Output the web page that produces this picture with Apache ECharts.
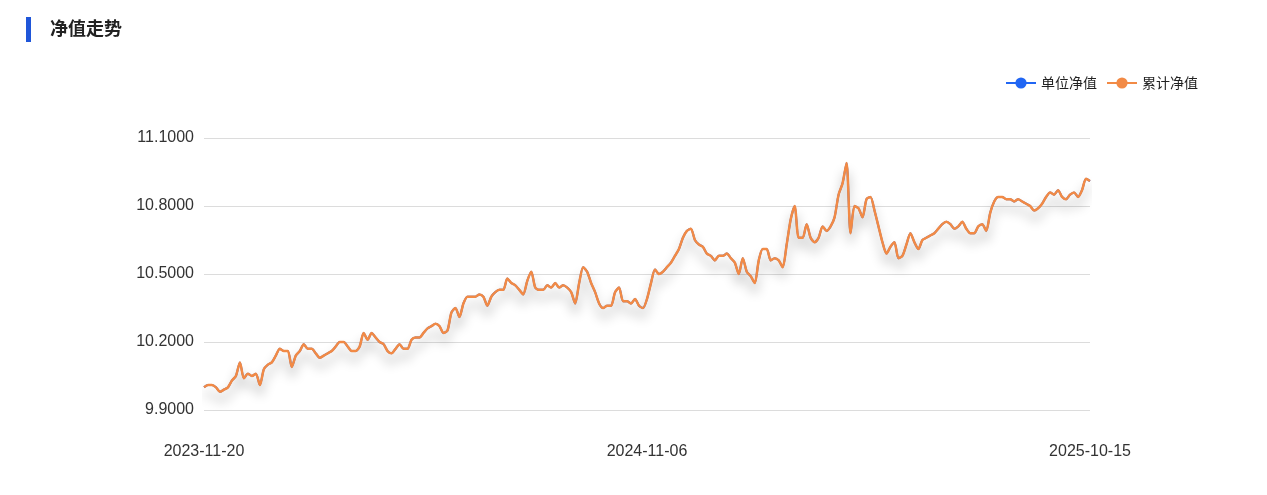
<!DOCTYPE html>
<html>
<head>
<meta charset="utf-8">
<title>净值走势</title>
<script src="https://cdn.jsdelivr.net/npm/echarts@6/dist/echarts.min.js"></script>
<style>
  html, body { margin: 0; padding: 0; background: #fff; }
  #chart { width: 1267px; height: 495px; }
</style>
</head>
<body>
<div id="chart"></div>
<script>
// tick labels shown on the x axis (first, middle, last category)
const xLabels = ['2023-11-20', '2024-11-06', '2025-10-15']
const yTicks = [9.9, 10.2, 10.5, 10.8, 11.1]
const seriesNames = ['单位净值', '累计净值']

// net value at evenly spaced dates
const unitNav = [
  10.00, 10.01, 10.01, 10.00, 9.98, 9.99, 10.00, 10.03, 10.05, 10.11,
  10.04, 10.06, 10.05, 10.06, 10.01, 10.08, 10.10, 10.11, 10.14, 10.17,
  10.16, 10.16, 10.09, 10.14, 10.16, 10.19, 10.17, 10.17, 10.15, 10.13,
  10.14, 10.15, 10.16, 10.18, 10.20, 10.20, 10.18, 10.16, 10.16, 10.18,
  10.24, 10.21, 10.24, 10.22, 10.20, 10.19, 10.16, 10.15, 10.17, 10.19,
  10.17, 10.17, 10.21, 10.22, 10.22, 10.24, 10.26, 10.27, 10.28, 10.27,
  10.24, 10.25, 10.33, 10.35, 10.31, 10.37, 10.40, 10.40, 10.40, 10.41,
  10.40, 10.36, 10.40, 10.42, 10.43, 10.43, 10.48, 10.46, 10.45, 10.43,
  10.41, 10.47, 10.51, 10.44, 10.43, 10.43, 10.45, 10.44, 10.46, 10.44,
  10.45, 10.44, 10.42, 10.37, 10.46, 10.53, 10.51, 10.46, 10.42, 10.37,
  10.35, 10.36, 10.36, 10.42, 10.44, 10.38, 10.38, 10.37, 10.39, 10.36,
  10.35, 10.39, 10.46, 10.52, 10.50, 10.51, 10.53, 10.55, 10.58, 10.61,
  10.66, 10.69, 10.70, 10.65, 10.63, 10.62, 10.59, 10.58, 10.56, 10.58,
  10.58, 10.59, 10.57, 10.55, 10.50, 10.57, 10.51, 10.49, 10.46, 10.56,
  10.61, 10.61, 10.56, 10.57, 10.56, 10.53, 10.63, 10.74, 10.80, 10.66,
  10.66, 10.72, 10.66, 10.64, 10.66, 10.71, 10.69, 10.71, 10.75, 10.85,
  10.90, 10.99, 10.68, 10.80, 10.79, 10.75, 10.83, 10.84, 10.78, 10.71,
  10.64, 10.59, 10.62, 10.64, 10.57, 10.58, 10.63, 10.68, 10.64, 10.61,
  10.65, 10.66, 10.67, 10.68, 10.70, 10.72, 10.73, 10.72, 10.70, 10.71,
  10.73, 10.70, 10.68, 10.68, 10.71, 10.72, 10.69, 10.77, 10.82, 10.84,
  10.84, 10.83, 10.83, 10.82, 10.83, 10.82, 10.81, 10.80, 10.78, 10.79,
  10.81, 10.84, 10.86, 10.85, 10.87, 10.84, 10.83, 10.85, 10.86, 10.84,
  10.87, 10.92, 10.91
]
// no dividends, so the accumulated value sits on the unit value
const accNav = unitNav

// date for every point, spread between the three labelled dates
function buildDates(count) {
  const day = 86400000
  const anchors = xLabels.map((s) => Date.parse(s + 'T00:00:00Z'))
  const half = (count - 1) / 2
  const out = []
  for (let i = 0; i < count; i++) {
    const seg = i <= half ? 0 : 1
    const t = (i - seg * half) / half
    const ms = anchors[seg] + Math.round(((anchors[seg + 1] - anchors[seg]) * t) / day) * day
    out.push(new Date(ms).toISOString().slice(0, 10))
  }
  return out
}
const dates = buildDates(unitNav.length)
const labelIdx = [0, (dates.length - 1) / 2, dates.length - 1]

const font = '"Liberation Sans", "Noto Sans CJK SC", sans-serif'
const chart = echarts.init(document.getElementById('chart'))

chart.setOption({
  animation: false,
  textStyle: { fontFamily: font },
  title: {
    text: '净值走势',
    left: 50,
    top: 19,
    padding: 0,
    textStyle: { fontSize: 18, fontWeight: 'bold', color: '#222', fontFamily: '"Noto Sans CJK SC", sans-serif' }
  },
  graphic: [
    { type: 'rect', left: 26, top: 17, shape: { width: 5, height: 25 }, style: { fill: '#1f56d9' } }
  ],
  legend: {
    right: 64,
    top: 71,
    itemWidth: 30,
    itemHeight: 14,
    itemGap: 9,
    data: seriesNames,
    textStyle: { fontSize: 14, color: '#222', fontFamily: '"Noto Sans CJK SC", sans-serif' }
  },
  grid: { left: 204, right: 177, top: 138, bottom: 85 },
  xAxis: {
    type: 'category',
    data: dates,
    boundaryGap: false,
    axisLine: { show: false },
    axisTick: { show: false },
    axisLabel: {
      interval: (idx) => labelIdx.includes(idx),
      margin: 34,
      fontSize: 16,
      color: '#333'
    }
  },
  yAxis: {
    type: 'value',
    min: yTicks[0],
    max: yTicks[yTicks.length - 1],
    interval: 0.3,
    axisLine: { show: false },
    axisTick: { show: false },
    axisLabel: {
      margin: 10,
      fontSize: 16,
      color: '#333',
      formatter: (v) => v.toFixed(4)
    },
    splitLine: { lineStyle: { color: '#dcdcdc', width: 1 } }
  },
  series: [
    {
      name: seriesNames[0],
      type: 'line',
      data: unitNav,
      color: '#2166f3',
      symbol: 'circle',
      symbolSize: 12,
      showSymbol: false,
      smooth: 0.25,
      lineStyle: { width: 2 }
    },
    {
      name: seriesNames[1],
      type: 'line',
      data: accNav,
      color: '#f28a45',
      symbol: 'circle',
      symbolSize: 12,
      showSymbol: false,
      smooth: 0.25,
      lineStyle: {
        width: 2.5,
        shadowColor: 'rgba(0, 0, 0, 0.33)',
        shadowBlur: 12,
        shadowOffsetY: 9
      }
    }
  ]
})
</script>
</body>
</html>
